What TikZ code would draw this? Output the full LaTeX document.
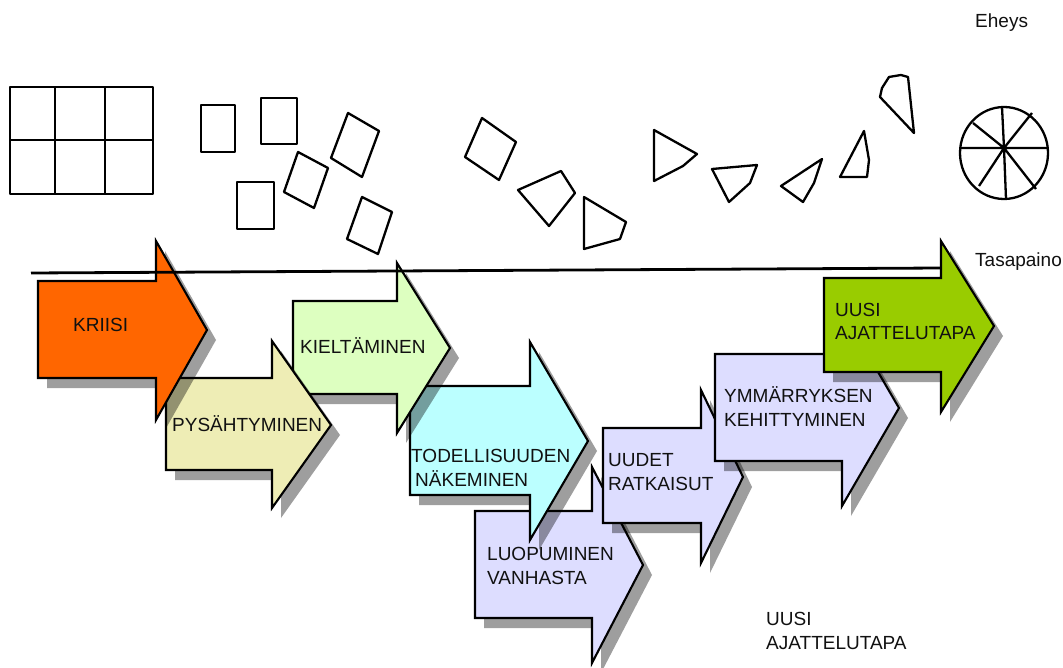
\documentclass[tikz,border=0pt]{standalone}
\usepackage{fontspec}
\setmainfont{Liberation Sans}
\definecolor{cKri}{HTML}{FF6600}
\definecolor{cPys}{HTML}{EEEDB5}
\definecolor{cKie}{HTML}{DDFFC0}
\definecolor{cTod}{HTML}{BBFFFF}
\definecolor{cLav}{HTML}{DDDDFF}
\definecolor{cUus}{HTML}{99CC00}
\definecolor{ink}{HTML}{111111}
\newcommand{\flowarrow}[9]{%
  \fill[black, fill opacity=0.38, shift={(9,10)}] (#2,#3) -- (#5,#3) -- (#5,#6) -- (#8,#9) -- (#5,#7) -- (#5,#4) -- (#2,#4) -- cycle;
  \draw[arrowline, fill=#1] (#2,#3) -- (#5,#3) -- (#5,#6) -- (#8,#9) -- (#5,#7) -- (#5,#4) -- (#2,#4) -- cycle;
}
\begin{document}
\begin{tikzpicture}[x=1pt,y=-1pt,
  arrowline/.style={draw=black, line width=2.1pt, line join=miter},
  piece/.style={draw=black, line width=2.3pt, line join=round},
  lbl/.style={anchor=base west, inner sep=0pt, align=left, text=ink,
    font=\fontsize{19}{23.5}\selectfont}]
\useasboundingbox[fill=white] (0,0) rectangle (1063,668);

% ---- top pieces ----
\draw[piece] (10,87) rectangle (153,194);
\draw[piece] (55,87) -- (55,194);
\draw[piece] (105,87) -- (105,194);
\draw[piece] (10,140) -- (153,140);

\draw[piece] (201,105) rectangle (235,152);
\draw[piece] (261,98) rectangle (297,144);
\draw[piece] (237,182) rectangle (274,229);
\draw[piece] (348,113) -- (379,131) -- (362,177) -- (331,158) -- cycle;
\draw[piece] (298,152) -- (328,168) -- (314,208) -- (284,192) -- cycle;
\draw[piece] (362,197) -- (392,212) -- (378,254) -- (347,239) -- cycle;

\draw[piece] (482,118) -- (516,142) -- (499,180) -- (465,157) -- cycle;
\draw[piece] (518,190) -- (561,171) -- (575,193) -- (549,226) -- cycle;
\draw[piece] (584,197) -- (626,222) -- (620,239) -- (584,249) -- cycle;
\draw[piece] (654,130) -- (697,154) -- (683,166) -- (654,181) -- cycle;
\draw[piece] (712,169) -- (757,165) -- (750,183) -- (729,202) -- cycle;
\draw[piece] (781,186) -- (822,159) -- (814,183) -- (803,202) -- cycle;
\draw[piece] (864,131) -- (869,160) -- (867,177) -- (840,177) -- cycle;
\draw[piece] (889,77) -- (901,75) -- (908,77) -- (914,133) -- (880,97) -- (882,88) -- cycle;

\draw[piece] (1004,153) ellipse [x radius=44, y radius=46];
\coordinate (hub) at (1004,148);
\draw[piece] (hub) -- (1002,107) (hub) -- (1006,199) (hub) -- (960,148) (hub) -- (1048,148)
  (hub) -- (973,123) (hub) -- (1036,189) (hub) -- (1032,113) (hub) -- (979,186);

% ---- arrows (stacking order as in the reference) ----
\flowarrow{cLav}{475}{511}{618}{592}{467}{663}{643}{565}
\flowarrow{cTod}{410}{386}{495}{530}{342}{540}{588}{441}
\flowarrow{cKie}{293}{301}{394}{397}{263}{433}{450}{348}
\flowarrow{cPys}{166}{378}{470}{272}{341}{508}{331}{425}
\flowarrow{cKri}{38}{281}{378}{156}{241}{420}{207}{330}
\flowarrow{cLav}{603}{428}{523}{701}{390}{563}{743}{477}
\flowarrow{cLav}{715}{354}{461}{842}{310}{506}{899}{408}
\flowarrow{cUus}{824}{278}{372}{941}{241}{412}{994}{326}

% ---- balance line ----
\coordinate (lstart) at (31,273);
\coordinate (lend) at (941,268);
\draw[line width=2.8pt] (lstart) -- (lend);

% ---- labels (multi-line: base = last line) ----
\node[lbl] (tKri) at (73,331) {KRIISI};
\node[lbl] (tPys) at (172,431) {PYSÄHTYMINEN};
\node[lbl] (tKie) at (300,353) {KIELTÄMINEN};
\node[lbl] (tTod) at (411,486) {TODELLISUUDEN\\\hspace{4pt}NÄKEMINEN};
\node[lbl] (tLuo) at (487,584) {LUOPUMINEN\\VANHASTA};
\node[lbl] (tUud) at (608,490) {UUDET\\RATKAISUT};
\node[lbl] (tYmm) at (724,426) {YMMÄRRYKSEN\\KEHITTYMINEN};
\node[lbl] (tUus) at (835,340) {UUSI\\AJATTELUTAPA};
\node[lbl] (tBot) at (766,649) {UUSI\\AJATTELUTAPA};
\node[lbl] (tTas) at (975,267) {Tasapaino};
\node[lbl] (tEhe) at (975,28) {Eheys};
\end{tikzpicture}
\end{document}
